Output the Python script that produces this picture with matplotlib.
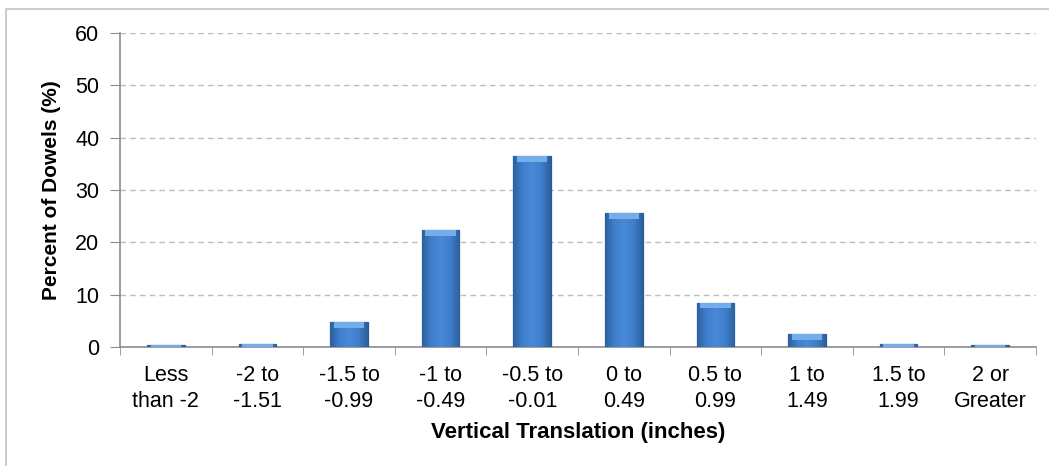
import matplotlib.pyplot as plt
from matplotlib.patches import Rectangle
from matplotlib.colors import LinearSegmentedColormap
import numpy as np

categories = ['Less\nthan -2', '-2 to\n-1.51', '-1.5 to\n-0.99', '-1 to\n-0.49', '-0.5 to\n-0.01',
              '0 to\n0.49', '0.5 to\n0.99', '1 to\n1.49', '1.5 to\n1.99', '2 or\nGreater']
percent = [0.4, 0.6, 4.7, 22.3, 36.4, 25.6, 8.5, 2.4, 0.6, 0.4]
yticks = [0, 10, 20, 30, 40, 50, 60]

plt.rcParams['font.family'] = ['Liberation Sans', 'DejaVu Sans']

fig = plt.figure(figsize=(10.49, 4.66), dpi=100)
ax = fig.add_axes([0.1144, 0.2554, 0.8732, 0.6738])

# outer chart frame
fig.patches.append(Rectangle((6 / 1049, -0.05), 1.2, 1 - 9 / 466 + 0.05,
                             transform=fig.transFigure, fill=False,
                             edgecolor='#c4c4c4', linewidth=1.2))

x = np.arange(len(categories))
bars = ax.bar(x, percent, width=0.41, color='#3b79c6', edgecolor='#2a5a96',
              linewidth=0.9, zorder=3)

# side-to-side shading like the Excel bevel
shade = LinearSegmentedColormap.from_list('shade', ['#2d609f', '#3f7fcc', '#4888d6', '#3f7fcc', '#2d609f'])
grad = np.linspace(0, 1, 64).reshape(1, -1)
for b in bars:
    bx, by = b.get_x(), b.get_y()
    im = ax.imshow(grad, cmap=shade, aspect='auto', zorder=3.5,
                   extent=[bx, bx + b.get_width(), by, by + b.get_height()])
    im.set_clip_path(b)

# light bevel on the bar tops
bevel = [min(v, 1.1) for v in percent]
ax.bar(x, bevel, width=0.33, bottom=[v - b for v, b in zip(percent, bevel)],
       color='#74adeb', linewidth=0, zorder=4)

ax.set_xlim(-0.5, len(categories) - 0.5)
ax.set_ylim(0, 60)
ax.set_yticks(yticks)
ax.set_xticks(x)
ax.set_xticklabels(categories, fontsize=15.5, linespacing=1.3)
ax.set_xticks(np.arange(-0.5, len(categories), 1), minor=True)
ax.tick_params(axis='x', which='major', length=0, pad=13)
ax.tick_params(axis='x', which='minor', length=6, color='#8c8c8c', direction='out')
ax.tick_params(axis='y', length=7, color='#8c8c8c', direction='out', labelsize=15.5, pad=8)

ax.grid(axis='y', linestyle=(0, (4, 3)), color='#bdbdbd', linewidth=1, zorder=0)
for s in ['top', 'right']:
    ax.spines[s].set_visible(False)
for s in ['left', 'bottom']:
    ax.spines[s].set_color('#8c8c8c')
    ax.spines[s].set_linewidth(1.2)

ax.set_ylabel('Percent of Dowels (%)', fontsize=15, fontweight='bold', labelpad=10)
ax.set_xlabel('Vertical Translation (inches)', fontsize=16, fontweight='bold', labelpad=7)

fig.savefig('out.png', dpi=100)
